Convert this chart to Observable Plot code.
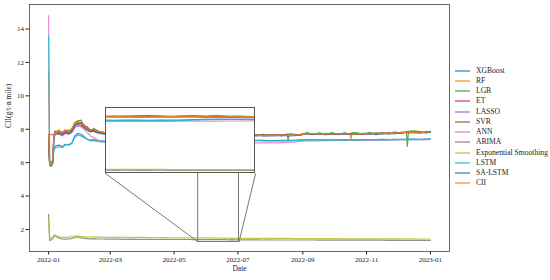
<!DOCTYPE html>
<html><head><meta charset="utf-8">
<script src="https://cdn.jsdelivr.net/npm/d3@7"></script>
<script src="https://cdn.jsdelivr.net/npm/@observablehq/plot@0.6"></script>
<style>
body{margin:0;background:white;}
#wrap{position:relative;width:550px;height:280px;font-family:"Liberation Serif",serif;}
#legend{position:absolute;left:455px;top:65.6px;font-size:7.6px;color:#222;}
#legend .row{height:10.25px;line-height:10.25px;white-space:nowrap;display:flex;align-items:center;}
#legend svg{display:block;margin-right:6px;}
#inset{position:absolute;border:1.5px solid #555;box-sizing:border-box;background:white;overflow:hidden;}
</style></head>
<body><div id="wrap"><div id="legend"></div></div>
<script>
const dates = ["2022-01-01","2022-01-02","2022-01-03","2022-01-04","2022-01-05","2022-01-06","2022-01-07","2022-01-08",
"2022-01-11","2022-01-14","2022-01-17","2022-01-20","2022-01-23","2022-01-26","2022-01-29","2022-02-01","2022-02-04","2022-02-07","2022-02-10","2022-02-13","2022-02-16","2022-02-19","2022-02-22","2022-02-25",
"2022-03-03","2022-03-09","2022-03-15","2022-03-21","2022-03-27",
"2022-04-02","2022-04-08","2022-04-14","2022-04-20","2022-04-26",
"2022-05-02","2022-05-08","2022-05-14","2022-05-20","2022-05-23","2022-05-26","2022-05-29",
"2022-06-01","2022-06-04","2022-06-07","2022-06-10","2022-06-13","2022-06-16","2022-06-19","2022-06-22","2022-06-25","2022-06-28",
"2022-07-01","2022-07-04","2022-07-07","2022-07-13","2022-07-19","2022-07-25","2022-07-31",
"2022-08-06","2022-08-12","2022-08-17","2022-08-18","2022-08-19","2022-08-24","2022-08-30",
"2022-09-05","2022-09-11","2022-09-17","2022-09-23","2022-09-29",
"2022-10-05","2022-10-11","2022-10-16","2022-10-17","2022-10-18","2022-10-23","2022-10-29",
"2022-11-04","2022-11-10","2022-11-16","2022-11-22","2022-11-28",
"2022-12-04","2022-12-09","2022-12-10","2022-12-11","2022-12-16","2022-12-22","2022-12-28","2023-01-01"];

const seriesNames = ["XGBoost","RF","LGB","ET","LASSO","SVR","ANN","ARIMA","Exponential Smoothing","LSTM","SA-LSTM","CII"];
const seriesColors = ["#1f77b4","#ff7f0e","#2ca02c","#d62728","#9467bd","#8c564b","#e377c2","#7f7f7f","#bcbd22","#17becf","#1f77b4","#ff7f0e"];

const xgboost = [7.50,5.90,5.85,5.95,6.05,6.80,6.95,7.00,
7.05,6.95,7.10,7.05,7.15,7.60,7.75,7.70,7.55,7.40,7.35,7.38,7.32,7.30,7.30,7.28,
7.28,7.27,7.28,7.26,7.27, 7.26,7.27,7.25,7.26,7.25,
7.25,7.24,7.25,7.24,7.24,7.23,7.24,
7.24,7.23,7.24,7.24,7.25,7.30,7.33,7.34,7.34,7.34,
7.34,7.35,7.34,7.34,7.34,7.33,7.32,
7.32,7.33,7.33,7.33,7.34,7.34,7.36,
7.37,7.37,7.36,7.37,7.36,
7.37,7.38,7.37,7.37,7.38,7.37,7.38,
7.38,7.38,7.39,7.38,7.39,
7.40,7.40,7.40,7.41,7.41,7.40,7.41,7.42];
const rf = [11.50,5.95,5.80,6.00,6.10,7.60,7.75,7.90,
7.85,7.80,7.90,7.80,8.05,8.30,8.40,8.35,8.20,8.10,7.90,7.95,7.85,7.80,7.78,7.72,
7.70,7.69,7.71,7.67,7.68, 7.68,7.69,7.66,7.67,7.67,
7.67,7.66,7.68,7.65,7.67,7.66,7.66,
7.67,7.65,7.66,7.66,7.67,7.67,7.66,7.66,7.65,7.67,
7.66,7.66,7.65,7.64,7.64,7.63,7.65,
7.64,7.64,7.65,7.63,7.62,7.65,7.70,
7.73,7.73,7.74,7.72,7.72,
7.73,7.73,7.74,7.72,7.71,7.70,7.74,
7.74,7.75,7.75,7.76,7.76,
7.81,7.82,7.83,7.80,7.81,7.81,7.82,7.84];
const lgb = [7.60,5.85,5.90,5.80,6.00,7.50,7.90,7.70,
7.95,7.70,7.85,7.95,7.90,8.40,8.50,8.55,8.15,8.15,7.85,8.05,7.95,7.80,7.85,7.70,
7.75,7.62,7.74,7.63,7.72, 7.64,7.74,7.62,7.73,7.63,
7.72,7.62,7.70,7.63,7.69,7.64,7.68,
7.63,7.70,7.64,7.69,7.72,7.75,7.71,7.76,7.70,7.68,
7.64,7.69,7.62,7.67,7.60,7.70,7.62,
7.68,7.60,7.72,7.35,7.74,7.70,7.64,
7.80,7.68,7.78,7.66,7.80,
7.68,7.79,7.70,7.66,7.80,7.78,7.70,
7.82,7.68,7.80,7.70,7.84,
7.74,7.85,6.97,7.88,7.90,7.86,7.76,7.88];
const et = [7.65,5.95,5.90,6.00,5.95,7.65,7.80,7.85,
7.90,7.80,7.95,7.85,7.95,8.35,8.45,8.40,8.25,8.10,7.95,8.00,7.90,7.85,7.80,7.74,
7.71,7.69,7.70,7.68,7.70, 7.68,7.70,7.67,7.69,7.67,
7.69,7.66,7.68,7.66,7.67,7.69,7.66,
7.67,7.65,7.68,7.66,7.67,7.69,7.66,7.68,7.65,7.67,
7.66,7.68,7.65,7.64,7.66,7.63,7.65,
7.64,7.66,7.65,7.63,7.64,7.65,7.69,
7.75,7.73,7.76,7.72,7.74,
7.73,7.75,7.74,7.72,7.73,7.72,7.76,
7.74,7.77,7.75,7.78,7.76,
7.81,7.83,7.85,7.82,7.83,7.81,7.84,7.86];
const lasso = [7.70,7.68,7.68,7.68,7.68,7.68,7.70,7.72,
7.75,7.74,7.78,7.76,7.80,8.10,8.20,8.15,8.05,7.95,7.85,7.88,7.82,7.78,7.75,7.72,
7.70,7.68,7.69,7.67,7.68, 7.67,7.69,7.66,7.68,7.66,
7.68,7.66,7.67,7.65,7.66,7.67,7.66,
7.70,7.72,7.69,7.66,7.66,7.67,7.65,7.66,7.64,7.66,
7.65,7.66,7.64,7.63,7.65,7.63,7.64,
7.63,7.65,7.64,7.63,7.63,7.64,7.67,
7.72,7.72,7.73,7.71,7.72,
7.72,7.73,7.72,7.71,7.72,7.72,7.74,
7.73,7.75,7.74,7.76,7.75,
7.79,7.81,7.82,7.81,7.81,7.80,7.82,7.83];
const svr = [7.60,6.00,5.95,6.05,6.10,7.50,7.70,7.75,
7.80,7.70,7.85,7.75,7.90,8.25,8.35,8.30,8.15,8.00,7.90,7.92,7.85,7.80,7.75,7.70,
7.69,7.67,7.68,7.65,7.67, 7.66,7.68,7.64,7.67,7.65,
7.67,7.64,7.66,7.63,7.65,7.67,7.64,
7.65,7.63,7.66,7.64,7.65,7.67,7.64,7.66,7.63,7.65,
7.64,7.66,7.63,7.62,7.64,7.61,7.63,
7.62,7.64,7.63,7.61,7.62,7.63,7.67,
7.73,7.71,7.74,7.70,7.72,
7.71,7.73,7.72,7.70,7.71,7.71,7.74,
7.72,7.75,7.73,7.76,7.74,
7.79,7.81,7.83,7.80,7.81,7.79,7.82,7.84];
const ann = [14.80,5.95,5.90,6.00,6.15,7.55,7.70,7.75,
7.70,7.60,7.75,7.70,7.80,8.10,8.20,8.15,8.00,7.80,7.60,7.50,7.40,7.30,7.25,7.20,
7.18,7.16,7.15,7.14,7.13, 7.12,7.12,7.11,7.11,7.10,
7.10,7.10,7.09,7.09,7.10,7.09,7.10,
7.10,7.09,7.10,7.10,7.11,7.12,7.13,7.13,7.14,7.14,
7.15,7.15,7.16,7.17,7.18,7.18,7.19,
7.19,7.20,7.21,7.21,7.21,7.23,7.28,
7.30,7.31,7.31,7.32,7.32,
7.33,7.33,7.34,7.34,7.34,7.34,7.34,
7.35,7.35,7.35,7.36,7.36,
7.37,7.37,7.37,7.37,7.38,7.37,7.38,7.39];
const arima = [2.90,1.35,1.36,1.40,1.45,1.55,1.65,1.58,
1.48,1.44,1.42,1.43,1.45,1.52,1.55,1.50,1.46,1.45,1.44,1.45,1.44,1.43,1.43,1.42,
1.42,1.42,1.41,1.42,1.41, 1.41,1.41,1.40,1.41,1.40,
1.40,1.40,1.40,1.39,1.40,1.39,1.40,
1.39,1.39,1.40,1.39,1.39,1.39,1.39,1.38,1.39,1.38,
1.38,1.38,1.38,1.38,1.38,1.37,1.38,
1.37,1.37,1.37,1.37,1.37,1.37,1.37,
1.37,1.37,1.36,1.37,1.36,
1.36,1.36,1.36,1.36,1.36,1.36,1.36,
1.36,1.36,1.36,1.35,1.36,
1.35,1.35,1.35,1.35,1.35,1.35,1.35,1.35];
const expSmoothing = [2.50,1.50,1.48,1.52,1.56,1.62,1.68,1.64,
1.56,1.54,1.53,1.54,1.55,1.60,1.62,1.58,1.56,1.55,1.55,1.56,1.55,1.54,1.54,1.53,
1.53,1.53,1.52,1.52,1.52, 1.52,1.51,1.51,1.51,1.50,
1.50,1.50,1.50,1.49,1.50,1.49,1.49,
1.49,1.49,1.49,1.48,1.48,1.48,1.48,1.48,1.48,1.47,
1.47,1.47,1.47,1.47,1.46,1.46,1.46,
1.46,1.46,1.46,1.46,1.46,1.45,1.45,
1.45,1.45,1.45,1.45,1.45,
1.45,1.44,1.44,1.44,1.44,1.44,1.44,
1.44,1.44,1.44,1.44,1.44,
1.44,1.44,1.44,1.44,1.44,1.43,1.43,1.43];
const lstm = [13.60,6.00,5.95,6.05,6.20,6.70,6.85,6.90,
6.95,6.90,7.05,7.10,7.15,7.50,7.65,7.60,7.50,7.40,7.30,7.32,7.28,7.25,7.25,7.24,
7.24,7.23,7.24,7.22,7.23, 7.22,7.23,7.21,7.22,7.21,
7.21,7.20,7.21,7.20,7.20,7.19,7.20,
7.20,7.19,7.20,7.20,7.22,7.28,7.31,7.32,7.32,7.32,
7.32,7.33,7.32,7.32,7.32,7.31,7.30,
7.30,7.31,7.31,7.31,7.31,7.32,7.34,
7.35,7.35,7.34,7.35,7.34,
7.35,7.36,7.35,7.35,7.35,7.35,7.36,
7.36,7.36,7.37,7.36,7.37,
7.38,7.38,7.38,7.38,7.39,7.38,7.39,7.40];
const saLstm = [7.55,5.85,5.80,5.90,6.00,7.40,7.65,7.70,
7.75,7.65,7.80,7.70,7.85,8.20,8.30,8.25,8.10,7.95,7.85,7.88,7.80,7.75,7.72,7.68,
7.68,7.66,7.67,7.64,7.66, 7.65,7.67,7.63,7.66,7.64,
7.66,7.63,7.65,7.62,7.64,7.66,7.70,
7.72,7.74,7.71,7.65,7.64,7.66,7.63,7.65,7.62,7.64,
7.63,7.65,7.62,7.61,7.63,7.60,7.62,
7.61,7.63,7.62,7.60,7.61,7.62,7.66,
7.72,7.70,7.73,7.69,7.71,
7.70,7.72,7.71,7.69,7.70,7.70,7.73,
7.71,7.74,7.72,7.75,7.73,
7.78,7.80,7.82,7.79,7.80,7.78,7.81,7.83];
const cii = [7.70,5.90,5.85,5.95,6.05,7.55,7.80,7.85,
7.90,7.75,7.95,7.85,8.00,8.35,8.45,8.30,8.25,8.05,7.95,8.00,7.90,7.85,7.80,7.75,
7.72,7.68,7.70,7.66,7.69, 7.67,7.70,7.65,7.68,7.66,
7.68,7.65,7.67,7.64,7.66,7.68,7.65,
7.66,7.64,7.67,7.65,7.66,7.68,7.65,7.67,7.64,7.66,
7.65,7.67,7.64,7.63,7.65,7.62,7.64,
7.63,7.65,7.64,7.62,7.63,7.64,7.68,
7.74,7.72,7.75,7.71,7.73,
7.72,7.74,7.73,7.42,7.72,7.71,7.75,
7.73,7.76,7.74,7.77,7.75,
7.80,7.82,7.84,7.81,7.82,7.80,7.83,7.85];

const seriesValues = [xgboost, rf, lgb, et, lasso, svr, ann, arima, expSmoothing, lstm, saLstm, cii];

const xTickLabels = ["2022-01-01","2022-03-01","2022-05-01","2022-07-01","2022-09-01","2022-11-01","2023-01-01"];
const yTicks = [2,4,6,8,10,12,14];

// zoomed region and inset placement (data coordinates)
const zoomRegion = {x1:"2022-05-24", x2:"2022-07-02", y1:1.25, y2:8.6};
const insetPlace = {x1:"2022-02-24", x2:"2022-07-18", y1:5.37, y2:9.32};

(function () {
const parse = d3.utcParse("%Y-%m-%d");
const D = dates.map(parse);
const rows = seriesNames.flatMap((name, i) => D.map((d, j) => ({date: d, value: seriesValues[i][j], model: name})));

const xDomain = [new Date(Date.UTC(2021,11,13,18)), new Date(Date.UTC(2023,0,19,6))];
const yDomain = [0.68, 15.47];
const zr = {x1: parse(zoomRegion.x1), x2: parse(zoomRegion.x2), y1: zoomRegion.y1, y2: zoomRegion.y2};
const ip = {x1: parse(insetPlace.x1), x2: parse(insetPlace.x2), y1: insetPlace.y1, y2: insetPlace.y2};
const connectors = [
  {x1: ip.x1, y1: ip.y1, x2: zr.x1, y2: zr.y1},
  {x1: ip.x2, y1: ip.y1, x2: zr.x2, y2: zr.y1}
];

const W = 550, H = 280, mL = 29, mR = 101, mT = 4, mB = 29;
const colorScale = {domain: seriesNames, range: seriesColors};

const main = Plot.plot({
  width: W, height: H, marginLeft: mL, marginRight: mR, marginTop: mT, marginBottom: mB,
  style: {fontFamily: "Liberation Serif", fontSize: "7px", background: "white", color: "#222"},
  x: {type: "utc", domain: xDomain, ticks: xTickLabels.map(parse), tickFormat: d3.utcFormat("%Y-%m"), tickSize: 3.5, tickPadding: 2, label: null},
  y: {domain: yDomain, ticks: yTicks, tickSize: 3.5, tickPadding: 2, label: null},
  color: colorScale,
  marks: [
    Plot.line(rows, {x: "date", y: "value", z: "model", stroke: "model", strokeWidth: 1.2, strokeOpacity: 0.85}),
    Plot.rect([zr], {x1: "x1", x2: "x2", y1: "y1", y2: "y2", fill: "none", stroke: "#777", strokeWidth: 1}),
    Plot.link(connectors, {x1: "x1", y1: "y1", x2: "x2", y2: "y2", stroke: "#777", strokeWidth: 1}),
    Plot.frame({stroke: "#444", strokeWidth: 0.8}),
    Plot.text(["Date"], {frameAnchor: "bottom", dy: 19, fontSize: 7.5, fill: "#222"}),
    Plot.text(["CII(g/t·n mile)"], {frameAnchor: "left", dx: -21, rotate: -90, fontSize: 7.5, fill: "#222"})
  ]
});
const wrap = document.getElementById("wrap");
wrap.insertBefore(main, wrap.firstChild);

let sx, sy;
try { sx = main.scale("x"); sy = main.scale("y"); } catch(e) {}
const fx = (sx && sx.apply) ? (v => sx.apply(v)) : d3.scaleUtc(xDomain, [mL, W - mR]);
const fy = (sy && sy.apply) ? (v => sy.apply(v)) : d3.scaleLinear(yDomain, [H - mB, mT]);

const bLeft = fx(ip.x1), bRight = fx(ip.x2), bTop = fy(ip.y2), bBottom = fy(ip.y1);
const insetDiv = document.createElement("div");
insetDiv.id = "inset";
insetDiv.style.left = bLeft + "px";
insetDiv.style.top = bTop + "px";
insetDiv.style.width = (bRight - bLeft) + "px";
insetDiv.style.height = (bBottom - bTop) + "px";
wrap.appendChild(insetDiv);

const iw = Math.round(bRight - bLeft - 3), ih = Math.round(bBottom - bTop - 3);
const insetRows = rows.filter(r => r.date >= parse("2022-05-20") && r.date <= parse("2022-07-07"));
const inset = Plot.plot({
  width: iw, height: ih, margin: 0,
  style: {background: "white", overflow: "hidden"},
  x: {type: "utc", domain: [zr.x1, zr.x2], axis: null},
  y: {domain: [zr.y1, zr.y2], axis: null},
  color: colorScale,
  marks: [
    Plot.line(insetRows, {x: "date", y: "value", z: "model", stroke: "model", strokeWidth: 1.2, strokeOpacity: 0.85})
  ]
});
inset.style.display = "block";
insetDiv.appendChild(inset);

const legend = document.getElementById("legend");
const NS = "http://www.w3.org/2000/svg";
seriesNames.forEach((name, i) => {
  const row = document.createElement("div");
  row.className = "row";
  const s = document.createElementNS(NS, "svg");
  s.setAttribute("width", 15); s.setAttribute("height", 4);
  const ln = document.createElementNS(NS, "line");
  ln.setAttribute("x1", 0); ln.setAttribute("x2", 15);
  ln.setAttribute("y1", 2); ln.setAttribute("y2", 2);
  ln.setAttribute("stroke", seriesColors[i]);
  ln.setAttribute("stroke-width", 1.5);
  ln.setAttribute("stroke-opacity", 0.75);
  s.appendChild(ln);
  const t = document.createElement("span");
  t.textContent = name;
  row.appendChild(s); row.appendChild(t);
  legend.appendChild(row);
});
})();
</script>
</body></html>
